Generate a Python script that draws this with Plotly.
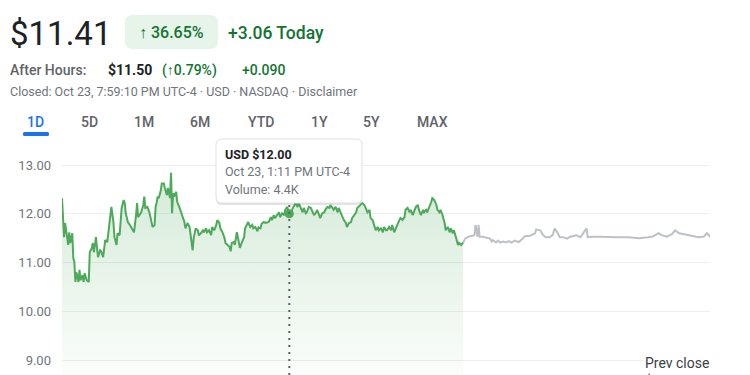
import plotly.graph_objects as go

DAY = "2023-10-23 "

# Regular session (green)
green_times = [
    "09:30","09:31","09:32","09:33","09:35","09:36","09:37","09:38","09:40","09:41","09:42","09:43","09:44","09:46","09:47","09:48","09:50","09:51","09:52","09:54","09:56","09:57","09:59",
    "10:00","10:01","10:03","10:04","10:05","10:07","10:08","10:10","10:11","10:12","10:14","10:15","10:17","10:18","10:20","10:21","10:23","10:24","10:26","10:28","10:30","10:31","10:32","10:34","10:36","10:38","10:40","10:42","10:43","10:44","10:46","10:47","10:49","10:50","10:51","10:53","10:55","10:57","10:58",
    "11:00","11:01","11:02","11:03","11:04","11:06","11:07","11:09","11:10","11:12","11:13","11:15","11:16","11:17","11:18","11:19","11:21","11:22","11:24","11:25","11:27","11:29","11:30","11:32","11:34","11:35","11:37","11:38","11:40","11:42","11:43","11:45","11:47","11:48","11:50","11:51","11:53","11:55","11:56","11:58",
    "12:00","12:01","12:03","12:04","12:06","12:08","12:09","12:11","12:13","12:14","12:15","12:17","12:18","12:20","12:22","12:23","12:25","12:27","12:28","12:30","12:31","12:33","12:35","12:36","12:38","12:40","12:41","12:43","12:44","12:46","12:48","12:51","12:53","12:54","12:56","12:57","12:59",
    "13:01","13:02","13:04","13:06","13:07","13:09","13:11","13:12","13:14","13:15","13:17","13:19","13:20","13:22","13:24","13:25","13:27","13:28","13:30","13:32","13:33","13:35","13:37","13:38","13:40","13:41","13:43","13:45","13:46","13:48","13:50","13:51","13:53","13:54","13:56","13:58","13:59",
    "14:01","14:03","14:04","14:06","14:07","14:09","14:11","14:12","14:14","14:16","14:17","14:19","14:20","14:22","14:24","14:25","14:27","14:29","14:30","14:32","14:33","14:35","14:37","14:38","14:40","14:42","14:43","14:45","14:46","14:48","14:50","14:51","14:53","14:55","14:56","14:58","14:59",
    "15:01","15:03","15:04","15:06","15:08","15:09","15:11","15:12","15:14","15:16","15:17","15:19","15:21","15:22","15:24","15:25","15:27","15:29","15:30","15:32","15:34","15:35","15:37","15:38","15:40","15:42","15:43","15:45","15:47","15:48","15:50","15:51","15:53","15:55","15:56","15:58","16:00",
]
green_prices = [
    12.32,11.77,11.52,11.81,11.56,11.36,11.62,11.40,11.60,11.09,11.01,10.60,10.80,10.60,10.85,10.64,10.74,10.60,10.78,10.64,10.60,11.21,11.30,
    11.40,11.21,11.52,11.30,11.11,11.25,11.23,11.11,11.30,11.46,11.42,11.62,11.97,12.14,11.83,11.52,11.36,11.60,11.56,12.12,12.28,12.22,12.01,11.83,11.77,11.70,11.62,11.97,12.22,11.93,12.01,12.03,12.18,12.35,12.12,12.14,12.03,11.77,11.73,
    11.77,12.14,12.22,12.35,12.32,12.47,12.62,12.62,12.53,12.38,12.53,12.32,12.84,12.01,12.42,12.35,12.45,12.24,12.14,12.08,11.97,11.83,11.70,11.81,11.73,11.56,11.25,11.50,11.70,11.66,11.56,11.60,11.66,11.62,11.70,11.62,11.66,11.56,11.73,11.66,
    11.77,11.87,11.81,11.70,11.62,11.50,11.40,11.36,11.32,11.23,11.40,11.42,11.36,11.62,11.40,11.30,11.42,11.52,11.70,11.81,11.83,11.73,11.77,11.70,11.73,11.64,11.72,11.70,11.79,11.83,11.81,11.83,11.93,11.87,11.97,11.91,11.97,
    12.03,11.93,12.01,11.97,12.08,12.14,12.00,12.01,12.08,12.14,12.22,12.14,12.22,12.12,12.03,12.12,12.01,12.03,12.14,12.12,12.08,11.97,12.03,12.08,11.97,11.91,12.01,12.03,12.08,12.14,12.12,12.18,12.12,12.08,12.14,12.03,12.12,
    12.01,11.93,11.87,11.81,11.73,11.81,11.83,11.91,11.97,12.03,12.12,12.16,12.18,12.22,12.18,12.12,12.03,12.08,11.91,11.87,11.81,11.66,11.73,11.66,11.70,11.62,11.73,11.66,11.66,11.73,11.66,11.77,11.62,11.70,11.77,11.87,11.91,
    11.87,11.93,12.08,12.12,12.03,12.08,11.97,12.03,12.14,12.18,12.08,11.97,12.08,12.03,12.08,12.03,12.12,12.24,12.32,12.28,12.18,12.08,12.03,12.08,11.97,11.81,11.66,11.73,11.62,11.70,11.60,11.66,11.52,11.36,11.40,11.36,11.41,
]

# After hours (grey)
ah_times = [
    "16:00","16:02","16:05","16:08","16:11","16:12","16:14","16:15","16:16","16:19","16:23","16:26","16:28","16:29","16:32","16:34","16:36","16:39","16:42","16:44","16:47","16:50","16:54","16:57",
    "17:00","17:05","17:10","17:11","17:15","17:17","17:20","17:24","17:27","17:29","17:32","17:34","17:37","17:41","17:44","17:47","17:50","17:54","17:56","17:59",
    "18:00","18:01","18:05","18:12","18:21","18:31","18:41","18:51",
    "19:00","19:05","19:10","19:13","19:18","19:23","19:26","19:30","19:35","19:40","19:44","19:49","19:54","19:57","19:59","20:00",
]
ah_prices = [
    11.41,11.49,11.53,11.54,11.56,11.77,11.53,11.77,11.53,11.53,11.50,11.49,11.43,11.46,11.41,11.45,11.41,11.43,11.41,11.44,11.41,11.45,11.42,11.47,
    11.54,11.55,11.60,11.68,11.66,11.58,11.52,11.52,11.56,11.70,11.60,11.52,11.52,11.49,11.53,11.54,11.56,11.52,11.58,11.68,
    11.70,11.52,11.53,11.53,11.52,11.52,11.52,11.50,
    11.52,11.54,11.60,11.56,11.53,11.58,11.66,11.60,11.58,11.56,11.54,11.52,11.53,11.60,11.56,11.52,
]

y_ticks = [9, 10, 11, 12, 13]
y_tick_labels = ["9.00", "10.00", "11.00", "12.00", "13.00"]
tabs = ["1D", "5D", "1M", "6M", "YTD", "1Y", "5Y", "MAX"]

hover_time = "13:11"
hover_price = 12.00
prev_close = 8.35

W, H = 750, 375
ML, MR, MT, MB = 62, 40, 145, 0
PW, PH = W - ML - MR, H - MT - MB


def px(x):
    return (x - ML) / PW


def py(y):
    return (H - MB - y) / PH


def rrect(x0, y0, x1, y1, r):
    rx, ry = r / PW, r / PH
    a, b, c, d = px(x0), py(y0), px(x1), py(y1)  # b top, d bottom (paper)
    return (f"M{a+rx},{b} L{c-rx},{b} Q{c},{b} {c},{b-ry} L{c},{d+ry} Q{c},{d} {c-rx},{d} "
            f"L{a+rx},{d} Q{a},{d} {a},{d+ry} L{a},{b-ry} Q{a},{b} {a+rx},{b} Z")


GREEN = "#4caa5a"
FONT = "Roboto"

fig = go.Figure()
fig.add_trace(go.Scatter(
    x=[DAY + t for t in green_times], y=green_prices, mode="lines",
    line=dict(color=GREEN, width=2), fill="tozeroy",
    fillgradient=dict(type="vertical", start=8.6, stop=12.9,
                      colorscale=[[0, "rgba(76,170,90,0.02)"], [1, "rgba(76,170,90,0.24)"]]),
    hoverinfo="skip", showlegend=False,
))
fig.add_trace(go.Scatter(
    x=[DAY + t for t in ah_times], y=ah_prices, mode="lines",
    line=dict(color="#bdc1c6", width=2), hoverinfo="skip", showlegend=False,
))
fig.add_trace(go.Scatter(
    x=[DAY + hover_time], y=[hover_price], mode="markers",
    marker=dict(color=GREEN, size=9), hoverinfo="skip", showlegend=False,
))

shapes = []
shapes.append(dict(type="line", xref="x", yref="paper", x0=DAY + hover_time, x1=DAY + hover_time,
                   y0=0, y1=py(203), line=dict(color="#5f6368", width=2, dash="2px,5px"), layer="above"))
shapes.append(dict(type="path", xref="paper", yref="paper", path=rrect(216, 140, 362, 205, 6),
                   fillcolor="rgba(60,64,67,0.15)", line=dict(width=0), layer="above"))
shapes.append(dict(type="path", xref="paper", yref="paper", path=rrect(216, 139, 362, 203, 6),
                   fillcolor="white", line=dict(color="#e0e0e0", width=1), layer="above"))
shapes.append(dict(type="path", xref="paper", yref="paper", path=rrect(125, 15, 218, 49, 8),
                   fillcolor="#e6f4ea", line=dict(width=0), layer="above"))
shapes.append(dict(type="path", xref="paper", yref="paper", path=rrect(23, 132, 49, 136, 1.5),
                   fillcolor="#1a73e8", line=dict(width=0), layer="above"))
fig.update_layout(shapes=shapes)

ann = []


def text(x, y, s, size, color, anchor="left", weight=None):
    ann.append(dict(xref="paper", yref="paper", x=px(x), y=py(y), text=s, showarrow=False,
                    xanchor=anchor, yanchor="middle",
                    font=dict(family=FONT, size=size, color=color, weight=weight)))


text(8, 34, "$11.41", 33, "#202124")
text(171.5, 33, "↑ 36.65%", 16, "#137333", anchor="center", weight=500)
text(226, 33, "+3.06 Today", 17.5, "#137333", weight=500)
text(8, 70, "After Hours:", 14, "#5f6368", weight=500)
text(106, 70, "$11.50", 14, "#202124", weight=700)
text(160, 70, "(↑0.79%)", 14, "#137333", weight=500)
text(240, 70, "+0.090", 14, "#137333", weight=500)
text(8, 91, "Closed: Oct 23, 7:59:10 PM UTC-4 · USD · NASDAQ · Disclaimer", 12.5, "#70757a")

tab_centers = [35, 89, 144, 200, 261, 319, 371, 432]
for t, cx in zip(tabs, tab_centers):
    text(cx, 122, t, 14, "#1a73e8" if t == "1D" else "#5f6368", anchor="center", weight=500)

text(223, 154, "USD $12.00", 12.5, "#202124", weight=700)
text(223, 171.5, "Oct 23, 1:11 PM UTC-4", 12.5, "#70757a")
text(223, 189, "Volume: 4.4K", 12.5, "#70757a")

ann.append(dict(xref="paper", yref="paper", x=px(643), y=py(353), text="Prev close<br>$" + f"{prev_close:.2f}",
                showarrow=False, xanchor="left", yanchor="top", align="left", bgcolor="white",
                font=dict(family=FONT, size=14, color="#3c4043")))
fig.update_layout(annotations=ann)

fig.update_layout(
    width=W, height=H, margin=dict(l=ML, r=MR, t=MT, b=MB, pad=0),
    paper_bgcolor="white", plot_bgcolor="white",
    xaxis=dict(type="date", range=[DAY + "09:30", DAY + "20:00"], showgrid=False, zeroline=False,
               showline=False, showticklabels=False, fixedrange=True),
    yaxis=dict(range=[13 - 210 / 48.75, 13 + 20 / 48.75], tickvals=y_ticks, ticktext=y_tick_labels,
               showgrid=True, gridcolor="#eeeeee", gridwidth=1, zeroline=False, showline=False,
               tickfont=dict(family=FONT, size=13, color="#70757a"), ticklabelstandoff=10,
               fixedrange=True),
    font=dict(family=FONT),
)

fig.write_html("out.html", config={"displayModeBar": False},
               post_script="document.body.style.margin='0';document.body.style.overflow='hidden';")
